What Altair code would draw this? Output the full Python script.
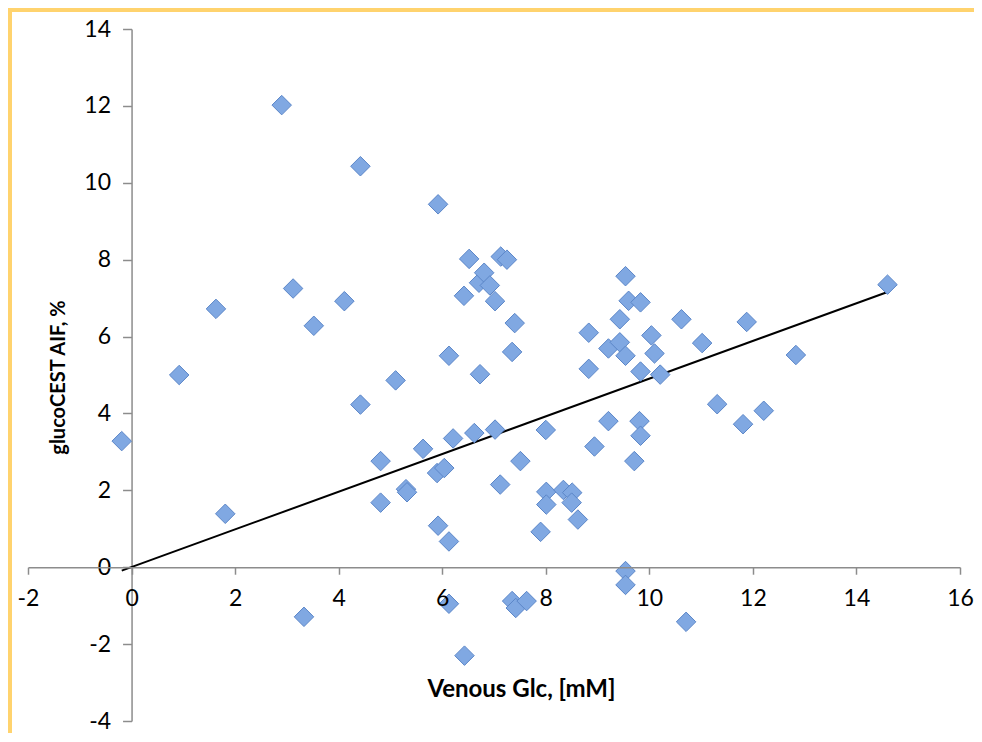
import altair as alt
import pandas as pd

# ---- data ----
glc_mM = [-0.19, 0.92, 1.63, 1.81, 2.90, 3.12, 3.33, 3.52, 4.11, 4.42,
          4.42, 4.81, 4.81, 5.10, 5.30, 5.32, 5.63, 5.90, 5.92, 5.92,
          6.04, 6.13, 6.13, 6.13, 6.21, 6.42, 6.43, 6.52, 6.62, 6.71,
          6.73, 6.81, 6.92, 7.02, 7.02, 7.12, 7.13, 7.25, 7.35, 7.35,
          7.40, 7.42, 7.51, 7.63, 7.90, 8.00, 8.01, 8.01, 8.34, 8.51,
          8.50, 8.62, 8.83, 8.83, 8.94, 9.21, 9.21, 9.43, 9.43, 9.54,
          9.54, 9.54, 9.54, 9.60, 9.71, 9.81, 9.83, 9.83, 9.83, 10.04,
          10.10, 10.21, 10.62, 10.71, 11.02, 11.31, 11.81, 11.88, 12.21, 12.83,
          14.60]
aif_pct = [3.28, 5.00, 6.72, 1.39, 12.02, 7.25, -1.29, 6.28, 6.92, 10.43,
           4.23, 2.76, 1.68, 4.86, 2.03, 1.95, 3.08, 2.45, 9.44, 1.08,
           2.58, 5.50, 0.67, -0.95, 3.35, 7.06, -2.30, 8.02, 3.49, 7.40,
           5.02, 7.66, 7.33, 6.92, 3.58, 2.15, 8.08, 8.00, 5.60, -0.88,
           6.35, -1.06, 2.76, -0.88, 0.92, 3.57, 1.96, 1.63, 2.01, 1.94,
           1.68, 1.24, 6.10, 5.16, 3.14, 5.69, 3.80, 6.45, 5.85, 7.57,
           5.50, -0.10, -0.46, 6.93, 2.76, 3.80, 6.89, 5.09, 3.42, 6.03,
           5.56, 5.01, 6.45, -1.42, 5.83, 4.24, 3.72, 6.38, 4.07, 5.52,
           7.35]
trend_x = [-0.19, 14.60]
trend_y = [-0.09, 7.16]

x_ticks = [-2, 0, 2, 4, 6, 8, 10, 12, 14, 16]
y_ticks = [-4, -2, 0, 2, 4, 6, 8, 10, 12, 14]

# ---- layout ----
W, H = 932, 692
X_MIN, X_MAX = -2, 16
Y_MIN, Y_MAX = -4, 14
PAD_L, PAD_T = 20, 21

x_axis_offset = -H * (0 - Y_MIN) / (Y_MAX - Y_MIN)
y_axis_offset = -W * (0 - X_MIN) / (X_MAX - X_MIN)

FONT = "Lato"
AXIS_GRAY = "#8c8c8c"

pts = pd.DataFrame({"glc": glc_mM, "aif": aif_pct})
trend = pd.DataFrame({"glc": trend_x, "aif": trend_y})

x_scale = alt.Scale(domain=[X_MIN, X_MAX], nice=False, zero=False)
y_scale = alt.Scale(domain=[Y_MIN, Y_MAX], nice=False, zero=False)

x_axis = alt.Axis(
    values=x_ticks, offset=x_axis_offset, grid=False,
    labelExpr="'' + datum.value",
    domainColor=AXIS_GRAY, domainWidth=1.5, tickColor=AXIS_GRAY, tickWidth=1.5,
    tickSize=7, labelFont=FONT, labelFontSize=23, labelColor="black",
    labelPadding=24, labelBaseline="middle", labelFlush=False,
    title="Venous Glc, [mM]", titleFont=FONT, titleFontSize=24,
    titleFontWeight="bold", titleColor="black",
    titleX=493, titleY=122, titleBaseline="middle", titleAlign="center",
    zindex=1,
)
y_axis = alt.Axis(
    values=y_ticks, offset=y_axis_offset, grid=False,
    labelExpr="'' + datum.value",
    domainColor=AXIS_GRAY, domainWidth=1.5, tickColor=AXIS_GRAY, tickWidth=1.5,
    tickSize=9, labelFont=FONT, labelFontSize=23, labelColor="black",
    labelPadding=12, labelFlush=False,
    title="glucoCEST AIF, %", titleFont=FONT, titleFontSize=20,
    titleFontWeight="bold", titleColor="black",
    titleX=-73, titleY=348, titleBaseline="middle", titleAlign="center",
    zindex=0,
)

points = alt.Chart(pts).mark_point(
    shape="diamond", size=380, filled=True, fill="#80A8E2",
    stroke="#5B86C8", strokeWidth=1, opacity=1,
).encode(
    x=alt.X("glc:Q", scale=x_scale, axis=x_axis),
    y=alt.Y("aif:Q", scale=y_scale, axis=y_axis),
)

line = alt.Chart(trend).mark_line(color="black", strokeWidth=2).encode(
    x=alt.X("glc:Q", scale=x_scale),
    y=alt.Y("aif:Q", scale=y_scale),
)

# decorative yellow frame of the original figure
frame_color = "#FFD36E"
top_border = alt.Chart(pd.DataFrame({"k": [0]})).mark_rule(
    color=frame_color, strokeWidth=4
).encode(x=alt.value(-PAD_L), x2=alt.value(W + 40), y=alt.value(-PAD_T + 2))
left_border = alt.Chart(pd.DataFrame({"k": [0]})).mark_rule(
    color=frame_color, strokeWidth=4
).encode(x=alt.value(-PAD_L + 2), y=alt.value(-PAD_T), y2=alt.value(H + 40))

chart = alt.layer(top_border, left_border, line, points).properties(
    width=W, height=H,
    background="white",
    autosize=alt.AutoSizeParams(type="none"),
    padding={"left": PAD_L, "top": PAD_T, "right": 14, "bottom": 12},
).configure_view(strokeWidth=0)

chart.save("out.html", embed_options={"renderer": "svg", "actions": False})
